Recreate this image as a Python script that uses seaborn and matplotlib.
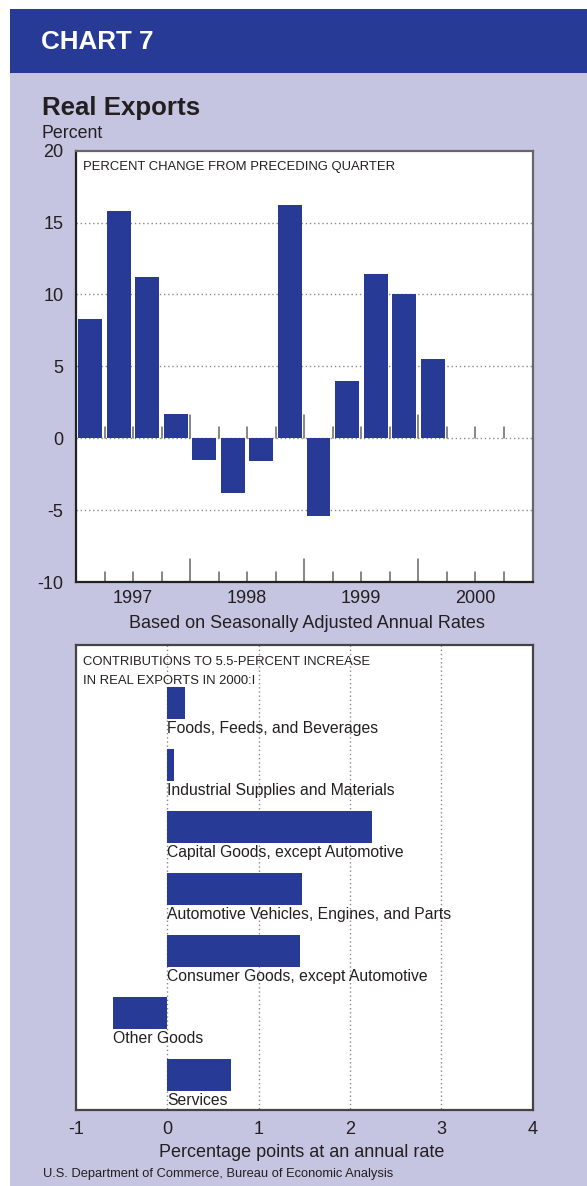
import matplotlib
matplotlib.use("Agg")
import matplotlib.pyplot as plt
import matplotlib.transforms as mtransforms
from matplotlib.patches import Rectangle
import numpy as np
import pandas as pd
import seaborn as sns

# ---------------- data ----------------
quarters = ["1997:I", "1997:II", "1997:III", "1997:IV",
            "1998:I", "1998:II", "1998:III", "1998:IV",
            "1999:I", "1999:II", "1999:III", "1999:IV",
            "2000:I", "2000:II", "2000:III", "2000:IV"]
pct_change = [8.3, 15.8, 11.2, 1.7, -1.5, -3.8, -1.6, 16.2, -5.4, 4.0, 11.4, 10.0, 5.5]
years = ["1997", "1998", "1999", "2000"]
top_yticks = [-10, -5, 0, 5, 10, 15, 20]

categories = ["Foods, Feeds, and Beverages",
              "Industrial Supplies and Materials",
              "Capital Goods, except Automotive",
              "Automotive Vehicles, Engines, and Parts",
              "Consumer Goods, except Automotive",
              "Other Goods",
              "Services"]
contrib = [0.19, 0.07, 2.24, 1.48, 1.45, -0.60, 0.70]
bottom_xticks = [-1, 0, 1, 2, 3, 4]

# ---------------- style ----------------
BLUE = "#263a96"
LAV = "#c5c5e2"
TXT = "#231f20"
GRID = "#8a8a8a"

sns.set_theme(style="white")
plt.rcParams["font.family"] = ["Liberation Sans", "DejaVu Sans"]

W, H = 587, 1186
fig = plt.figure(figsize=(W / 100, H / 100), dpi=100, facecolor="white")


def fx(x):
    return x / W


def fy(y):
    return 1 - y / H


# background panels
fig.patches.append(Rectangle((fx(10), 0), 1 - fx(10), fy(73.3), transform=fig.transFigure,
                             facecolor=LAV, edgecolor="none", zorder=0))
fig.patches.append(Rectangle((fx(10), fy(73.3)), 1 - fx(10), fy(9.3) - fy(73.3),
                             transform=fig.transFigure, facecolor=BLUE, edgecolor="none", zorder=0))

fig.text(fx(40.7), fy(49.3), "CHART 7", color="white", fontsize=18.7, fontweight="bold",
         va="baseline", ha="left")
fig.text(fx(41.7), fy(115), "Real Exports", color=TXT, fontsize=18.6, fontweight="bold",
         va="baseline", ha="left")
fig.text(fx(41.7), fy(138), "Percent", color=TXT, fontsize=12.8, va="baseline", ha="left")

# ---------------- top chart ----------------
L, R = 76, 532.5
T1, B1 = 150.7, 582
ax1 = fig.add_axes([fx(L), fy(B1), fx(R) - fx(L), fy(T1) - fy(B1)])
ax1.set_zorder(5)
ax1.set_facecolor("white")

df1 = pd.DataFrame({"quarter": quarters[:len(pct_change)], "value": pct_change})
sns.barplot(data=df1, x="quarter", y="value", order=quarters, color=BLUE, saturation=1,
            width=0.84, linewidth=0, ax=ax1, zorder=3)
ax1.set_xlim(-0.5, len(quarters) - 0.5)
ax1.set_ylim(-10, 20)

ax1.hlines([-5, 0, 5, 10, 15], -0.5, len(quarters) - 0.5, colors=GRID, linewidth=1,
           linestyles=(0, (1, 2)), zorder=1)

# quarter / year boundary ticks (bottom edge and zero line)
px_per_unit = (B1 - T1) / 30.0
bounds = np.arange(0.5, len(quarters) - 0.5, 1.0)
is_year = np.isclose((bounds + 0.5) % 4, 0)
trans = mtransforms.blended_transform_factory(ax1.transData, ax1.transAxes)
ax_h = B1 - T1
for b, yr in zip(bounds, is_year):
    ln = 23 if yr else 10
    ax1.plot([b, b], [0, ln / ax_h], transform=trans, color="#666666", lw=1.1, zorder=2)
    ln0 = 23 if yr else 11
    ax1.plot([b, b], [0, ln0 / px_per_unit], color="#666666", lw=1.1, zorder=2)

ax1.set_yticks(top_yticks)
ax1.set_yticklabels([str(v) for v in top_yticks])
ax1.set_xticks([1.5, 5.5, 9.5, 13.5])
ax1.set_xticklabels(years)
ax1.tick_params(axis="both", length=0, labelsize=13, labelcolor=TXT)
ax1.tick_params(axis="y", pad=9.1)
ax1.tick_params(axis="x", pad=5.8)
ax1.set_xlabel("")
ax1.set_ylabel("")
for s in ["left", "bottom"]:
    ax1.spines[s].set_color("#222222")
    ax1.spines[s].set_linewidth(1.6)
for s in ["top", "right"]:
    ax1.spines[s].set_color("#666666")
    ax1.spines[s].set_linewidth(1.6)
for s in ax1.spines.values():
    s.set_visible(True)

ax1.text(fx(82.7 - L) * W / (R - L), 1 - (170 - T1) / (B1 - T1),
         "PERCENT CHANGE FROM PRECEDING QUARTER", color=TXT, fontsize=9.4,
         va="baseline", ha="left", transform=ax1.transAxes, zorder=6)
fig.text(fx(306.9), fy(628.3), "Based on Seasonally Adjusted Annual Rates", color=TXT,
         fontsize=13, va="baseline", ha="center")

# ---------------- bottom chart ----------------
T2, B2 = 645, 1110
ax2 = fig.add_axes([fx(L), fy(B2), fx(R) - fx(L), fy(T2) - fy(B2)])
ax2.set_zorder(5)
ax2.set_facecolor("white")
df2 = pd.DataFrame({"category": categories, "value": contrib})
sns.barplot(data=df2, x="value", y="category", order=categories, orient="h", color=BLUE,
            saturation=1, width=0.52, linewidth=0, ax=ax2, zorder=3)
ax2.set_xlim(-1, 4)
ax2.set_ylim(6.56, -0.94)
ax2.vlines([0, 1, 2, 3], -0.94, 6.56, colors=GRID, linewidth=1, linestyles=(0, (1, 2)),
           zorder=1)
for i, (c, v) in enumerate(zip(categories, contrib)):
    ax2.text(min(0, v), i + 0.40, c, color=TXT, fontsize=11.3, va="center", ha="left",
             zorder=4)
ax2.set_yticks([])
ax2.set_xticks(bottom_xticks)
ax2.set_xticklabels([str(v) for v in bottom_xticks])
ax2.tick_params(axis="x", length=0, labelsize=13, labelcolor=TXT, pad=7.7)
ax2.set_xlabel("")
ax2.set_ylabel("")
for s in ax2.spines.values():
    s.set_visible(True)
    s.set_color("#444444")
    s.set_linewidth(1.6)

h2 = B2 - T2
ax2.text((82.7 - L) / (R - L), 1 - (665 - T2) / h2, "CONTRIBUTIONS TO 5.5-PERCENT INCREASE",
         color=TXT, fontsize=9.4, va="baseline", ha="left", transform=ax2.transAxes, zorder=6)
ax2.text((82.7 - L) / (R - L), 1 - (684 - T2) / h2, "IN REAL EXPORTS IN 2000:I",
         color=TXT, fontsize=9.4, va="baseline", ha="left", transform=ax2.transAxes, zorder=6)

fig.text(fx(301.5), fy(1156.7), "Percentage points at an annual rate", color=TXT,
         fontsize=13, va="baseline", ha="center")
fig.text(fx(42.7), fy(1177.3), "U.S. Department of Commerce, Bureau of Economic Analysis",
         color=TXT, fontsize=9.3, va="baseline", ha="left")

fig.savefig("out.png", dpi=100, facecolor="white")
